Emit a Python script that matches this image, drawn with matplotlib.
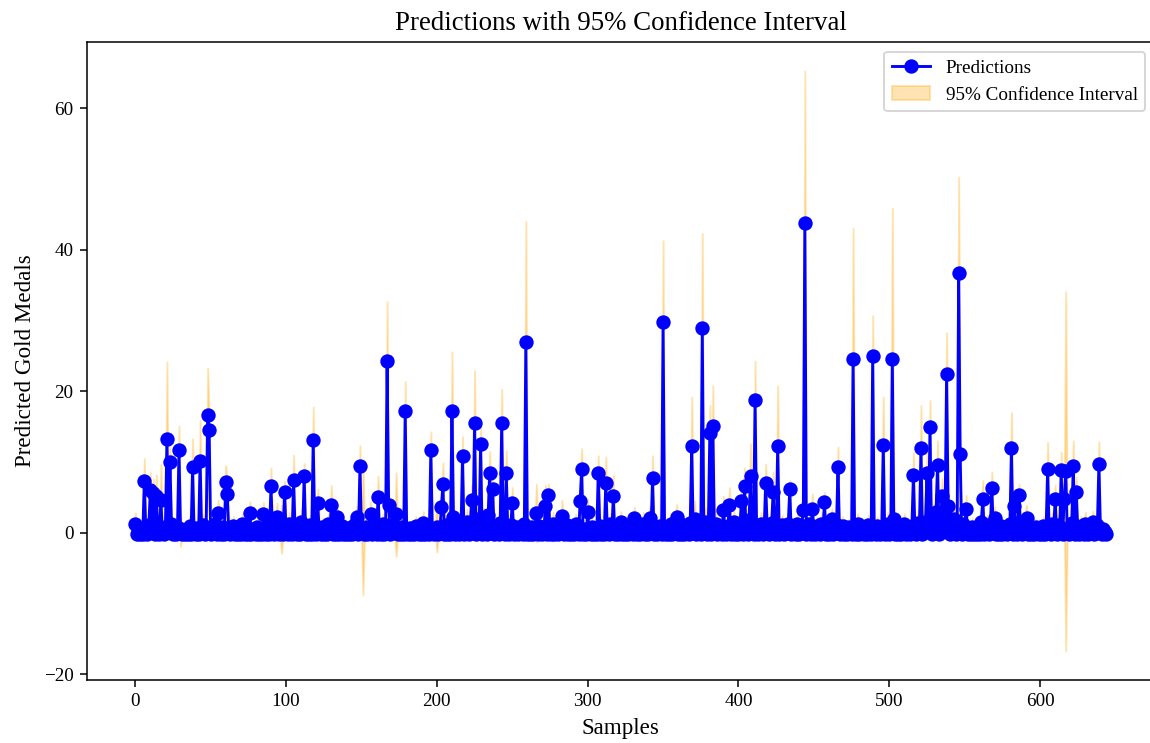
import numpy as np
import matplotlib
matplotlib.use('Agg')
import matplotlib.pyplot as plt

plt.rcParams['font.family'] = ['Liberation Serif', 'DejaVu Serif']

# Predicted gold medals per sample
predictions = [
    1.3, -0.2, 0.1, -0.2, 0.6, -0.1, 7.4, 0.3, -0.2, 1.1, 6.0, 0.2, 5.6, -0.1, 5.2, 0.4, -0.2, 4.6, 0.0, -0.2,
    0.9, 13.3, 0.2, 10.0, 1.2, -0.2, 0.5, -0.1, 0.8, 11.7, 0.5, -0.2, 0.1, -0.2, 0.3, -0.1, 1.0, -0.2, 9.3, 0.2,
    -0.2, 0.7, -0.1, 10.2, 0.3, 1.1, -0.2, 0.4, 16.7, 14.5, -0.2, 0.6, 0.0, 1.3, -0.2, 2.8, 0.2, -0.1, 0.9, -0.2,
    7.2, 5.5, 0.3, -0.2, 0.1, 1.0, -0.2, 0.2, -0.1, 0.5, -0.2, 1.2, 0.0, -0.2, 0.4, -0.1, 2.8, -0.2, 0.6, 0.1,
    -0.2, 0.9, -0.1, 0.3, -0.2, 2.6, 0.1, -0.2, 1.1, -0.1, 6.6, 0.2, -0.2, 0.7, 2.3, -0.2, 0.0, 0.5, -0.2, 5.8,
    0.4, -0.2, 1.3, 0.1, -0.2, 7.5, 0.2, -0.1, 0.8, -0.2, 1.6, 0.0, 8.0, -0.2, 0.5, -0.1, 1.1, -0.2, 13.2, 0.3,
    -0.2, 4.2, 0.1, -0.2, 0.9, -0.1, 0.4, -0.2, 1.2, 0.0, 3.9, -0.2, 0.6, -0.1, 2.3, -0.2, 0.2, 1.0, -0.2, 0.1,
    -0.2, 0.5, -0.1, 0.9, -0.2, 0.3, 1.3, 2.3, -0.2, 9.4, 0.2, 0.6, -0.2, 0.8, -0.1, 0.1, 2.7, -0.2, 0.4, 1.0,
    -0.2, 5.1, 0.3, -0.1, 1.2, -0.2, 0.6, 24.3, 4.0, -0.2, 0.2, 1.1, 0.3, 2.6, -0.2, 0.5, -0.1, 0.9, -0.2, 17.2,
    0.1, -0.2, 0.7, -0.1, 0.3, -0.2, 1.0, 0.0, -0.2, 0.4, -0.1, 1.4, -0.2, 0.2, 0.8, -0.2, 11.7, 0.1, -0.2, 0.6,
    0.8, -0.2, 0.3, 3.6, 6.9, -0.2, 1.1, -0.1, 0.4, -0.2, 17.3, 2.2, -0.2, 0.5, 1.0, -0.1, 0.2, 10.8, -0.2, 0.9,
    1.5, -0.2, 0.6, 4.6, 1.2, 15.6, -0.2, 2.0, 0.3, 12.6, -0.1, 1.8, 0.4, -0.2, 2.5, 8.5, 0.2, 6.2, -0.2, 1.0,
    0.3, -0.2, 1.4, 15.6, 0.1, -0.2, 8.5, 0.6, -0.1, 1.1, 4.2, -0.2, 0.2, 0.8, -0.2, 0.0, 0.5, -0.2, 1.2, 27.0,
    -0.2, 0.3, -0.1, 0.9, -0.2, 0.4, 2.8, -0.2, 1.0, 0.1, -0.2, 0.6, 3.8, -0.1, 5.4, 0.2, -0.2, 1.3, -0.1, 0.4,
    -0.2, 0.8, 0.0, 2.4, -0.2, 0.5, 1.1, -0.2, 0.2, -0.1, 0.7, -0.2, 1.2, 0.3, -0.2, 4.5, 9.1, -0.1, 0.6, -0.2,
    2.9, 0.1, -0.2, 0.9, -0.1, 0.4, -0.2, 8.5, 1.0, -0.2, 0.3, -0.1, 7.0, 0.5, -0.2, 1.2, 0.0, 5.2, -0.2, 0.6,
    -0.1, 0.2, 1.6, -0.2, 0.4, -0.1, 0.9, -0.2, 0.1, 1.1, -0.2, 2.1, 0.3, -0.2, 0.7, -0.1, 0.0, 1.3, -0.2, 0.5,
    -0.2, 2.1, 0.2, 7.7, -0.2, 0.8, -0.1, 0.4, 1.0, -0.2, 29.8, 0.1, -0.2, 0.6, -0.1, 1.2, -0.2, 0.3, 0.9, 2.3,
    -0.2, 0.4, -0.1, 1.1, -0.2, 0.2, 0.7, -0.2, 1.4, 12.3, 0.0, 2.0, -0.2, 0.5, 1.2, -0.2, 28.9, 0.3, 1.6, -0.1,
    0.8, 14.1, -0.2, 15.1, 0.4, 1.3, -0.2, 0.1, 0.9, -0.2, 3.2, 0.6, -0.1, 1.0, 4.0, -0.2, 0.3, 1.5, -0.2, 0.7,
    -0.1, 1.2, 4.5, -0.2, 6.6, 0.4, -0.2, 1.8, 8.0, 0.2, -0.2, 18.8, 0.9, -0.1, 0.5, 1.3, -0.2, 0.3, 7.0, 1.0,
    -0.2, 0.6, 1.4, 5.8, -0.1, 0.2, 12.3, -0.2, 0.8, 1.1, -0.2, 0.4, 0.0, 1.2, 6.2, -0.2, 0.3, 0.9, -0.1, 1.3,
    -0.2, 0.5, 1.0, 3.3, 43.8, -0.2, 0.7, 1.2, -0.1, 3.4, 0.2, -0.2, 1.0, 0.4, -0.2, 1.3, 0.1, 4.3, -0.2, 0.6,
    -0.1, 0.9, 1.9, -0.2, 0.3, 1.1, 9.3, -0.2, 0.5, 1.0, -0.1, 0.2, -0.2, 0.8, 0.0, -0.2, 24.6, 0.4, -0.1, 1.2,
    -0.2, 0.3, 0.9, -0.2, 0.6, -0.1, 1.1, 0.2, -0.2, 25.0, 0.5, -0.2, 1.0, 0.1, -0.2, 0.7, 12.4, -0.1, 0.4, 1.3,
    -0.2, 0.6, 24.6, 1.9, -0.2, 0.3, -0.1, 0.9, -0.2, 0.2, 1.2, -0.2, 0.5, 0.0, -0.2, 1.0, 8.2, 0.4, -0.2, 1.4,
    0.8, 12.0, -0.2, 0.3, 1.5, 8.5, 0.6, 15.0, -0.2, 2.2, 0.4, 3.0, 9.6, -0.2, 1.8, 5.2, 0.3, 2.6, 22.4, 3.8,
    -0.2, 1.0, 0.4, 2.0, -0.1, 0.7, 36.8, 11.1, -0.2, 1.2, 0.3, 3.4, -0.2, 0.5, -0.1, 0.9, -0.2, 0.2, -0.2, 0.6,
    -0.1, 1.5, 4.8, -0.2, 0.3, 1.1, -0.2, 0.8, 6.4, 0.2, 2.1, -0.2, 0.5, -0.1, 1.0, -0.2, 0.3, 0.0, -0.2, 0.7,
    1.2, 12.0, -0.2, 3.8, 0.4, -0.1, 5.4, 0.9, -0.2, 0.2, 1.1, 2.1, -0.2, 0.5, -0.1, 0.3, -0.2, 0.8, 0.0, -0.2,
    0.4, -0.1, 1.0, -0.2, 0.6, 9.1, 0.2, -0.2, 1.3, 0.5, 4.8, -0.2, 1.1, 0.3, 8.9, -0.2, 4.8, 8.7, 0.4, -0.2,
    0.9, 1.4, 9.5, -0.2, 5.8, 0.3, -0.1, 1.0, 0.2, -0.2, 1.3, 0.5, -0.2, 0.0, 0.8, 1.6, -0.2, 0.4, 1.1, 9.8,
    0.3, -0.2, 0.6, 0.1, -0.2,
]

# Half width of the 95% confidence interval per sample
ci_half = [
    1.5, 0.4, 0.6, 0.3, 1.0, 0.4, 3.1, 0.7, 0.3, 1.4, 2.5, 0.5, 2.0, 0.4, 3.0, 0.8, 0.3, 5.1, 0.5, 0.3,
    1.2, 10.9, 0.6, 2.5, 1.5, 0.3, 0.9, 0.4, 1.1, 3.4, 2.4, 0.3, 0.5, 0.3, 0.7, 0.4, 1.3, 0.3, 4.0, 0.6,
    0.3, 1.0, 0.4, 5.7, 0.7, 1.5, 0.3, 0.8, 6.6, 2.0, 0.3, 0.9, 0.5, 1.6, 0.3, 1.8, 0.6, 0.4, 1.2, 0.3,
    2.3, 1.5, 0.7, 0.3, 0.5, 1.3, 0.3, 0.6, 0.4, 0.9, 0.3, 1.5, 0.5, 0.3, 0.8, 0.4, 1.6, 0.3, 0.9, 0.5,
    0.3, 1.2, 0.4, 0.7, 0.3, 1.7, 0.5, 0.3, 1.4, 0.4, 2.6, 0.6, 0.3, 1.0, 1.9, 0.3, 0.5, 3.4, 0.3, 1.5,
    0.8, 0.3, 1.6, 0.5, 0.3, 3.5, 0.6, 0.4, 1.1, 0.3, 1.8, 0.5, 1.8, 0.3, 0.9, 0.4, 1.4, 0.3, 4.6, 0.7,
    0.3, 2.0, 0.5, 0.3, 1.2, 0.4, 0.8, 0.3, 1.5, 0.5, 2.8, 0.3, 0.9, 0.4, 1.6, 0.3, 0.6, 1.3, 0.3, 0.5,
    0.3, 0.9, 0.4, 1.2, 0.3, 0.7, 1.6, 1.5, 0.3, 2.9, 0.6, 9.4, 0.3, 1.1, 0.4, 0.5, 1.7, 0.3, 0.8, 1.3,
    0.3, 2.9, 0.7, 0.4, 1.5, 0.3, 0.9, 8.4, 1.8, 0.3, 0.6, 1.4, 0.7, 5.9, 0.3, 0.9, 0.4, 1.2, 0.3, 4.2,
    0.5, 0.3, 1.0, 0.4, 0.7, 0.3, 1.3, 0.5, 0.3, 0.8, 0.4, 1.6, 0.3, 0.6, 1.1, 0.3, 2.6, 0.5, 0.3, 0.9,
    3.5, 0.3, 0.7, 1.7, 3.0, 0.3, 1.4, 0.4, 0.8, 0.3, 8.3, 1.5, 0.3, 0.9, 1.3, 0.4, 0.6, 2.8, 0.3, 1.2,
    1.8, 0.3, 0.9, 2.2, 1.5, 7.3, 0.3, 1.9, 0.7, 2.5, 0.4, 1.7, 0.8, 0.3, 2.0, 3.0, 0.6, 2.4, 0.3, 1.3,
    0.7, 0.3, 1.6, 4.7, 0.5, 0.3, 3.1, 0.9, 0.4, 1.4, 2.2, 0.3, 0.6, 1.1, 0.3, 0.5, 0.9, 0.3, 1.5, 17.0,
    0.3, 0.7, 0.4, 1.2, 0.3, 0.8, 4.1, 0.3, 1.3, 0.5, 0.3, 0.9, 2.9, 0.4, 1.5, 0.6, 0.3, 1.6, 0.4, 0.8,
    0.3, 1.1, 0.5, 2.2, 0.3, 0.9, 1.4, 0.3, 0.6, 0.4, 1.0, 0.3, 1.5, 0.7, 0.3, 2.0, 2.8, 0.4, 0.9, 0.3,
    1.9, 0.5, 0.3, 1.2, 0.4, 0.8, 0.3, 2.4, 1.3, 0.3, 0.7, 0.4, 3.7, 0.9, 0.3, 1.5, 0.5, 2.9, 0.3, 0.9,
    0.4, 0.6, 1.4, 0.3, 0.8, 0.4, 1.2, 0.3, 0.5, 1.4, 0.3, 1.5, 0.7, 0.3, 1.0, 0.4, 0.5, 1.6, 0.3, 0.9,
    0.3, 1.6, 0.6, 3.2, 0.3, 1.1, 0.4, 0.8, 1.3, 0.3, 11.5, 0.5, 0.3, 0.9, 0.4, 1.5, 0.3, 0.7, 1.2, 1.7,
    0.3, 0.8, 0.4, 1.4, 0.3, 0.6, 1.0, 0.3, 1.7, 6.9, 0.5, 2.5, 0.3, 0.9, 1.5, 0.3, 13.4, 0.7, 1.9, 0.4,
    1.1, 3.9, 0.3, 5.7, 0.8, 1.6, 0.3, 0.5, 1.2, 0.3, 2.0, 0.9, 0.4, 1.3, 2.4, 0.3, 0.7, 1.8, 0.3, 1.0,
    0.4, 1.5, 2.3, 0.3, 2.6, 0.8, 0.3, 1.9, 4.6, 0.6, 0.3, 5.5, 1.2, 0.4, 0.9, 1.6, 0.3, 0.7, 2.7, 1.3,
    0.3, 0.9, 1.7, 2.8, 0.4, 0.6, 8.5, 0.3, 1.1, 1.4, 0.3, 0.8, 0.5, 1.5, 1.2, 0.3, 1.1, 1.2, 0.4, 1.6,
    0.3, 0.9, 1.3, 2.0, 21.5, 0.3, 1.0, 1.5, 0.4, 2.1, 0.6, 0.3, 1.3, 0.8, 0.3, 1.6, 0.5, 1.4, 0.3, 0.9,
    0.4, 1.2, 1.5, 0.3, 0.7, 1.4, 2.8, 0.3, 0.9, 1.3, 0.4, 0.6, 0.3, 1.1, 0.5, 0.3, 18.5, 0.8, 0.4, 1.5,
    0.3, 0.7, 1.2, 0.3, 0.9, 0.4, 1.4, 0.6, 0.3, 5.7, 0.9, 0.3, 1.3, 0.5, 0.3, 1.0, 6.8, 0.4, 0.8, 1.6,
    0.3, 0.9, 21.3, 1.5, 0.3, 0.7, 0.4, 1.2, 0.3, 0.6, 1.5, 0.3, 0.9, 0.5, 0.3, 1.3, 3.2, 0.8, 0.3, 1.7,
    1.1, 6.0, 0.3, 0.7, 1.8, 2.7, 0.9, 3.7, 0.3, 1.9, 0.8, 2.2, 3.4, 0.3, 1.6, 2.5, 0.7, 2.0, 5.9, 2.1,
    0.3, 1.3, 0.8, 1.7, 0.4, 1.0, 13.5, 3.0, 0.3, 1.5, 0.7, 1.9, 0.3, 0.9, 0.4, 1.2, 0.3, 0.6, 0.3, 0.9,
    0.4, 1.6, 2.6, 0.3, 0.7, 1.4, 0.3, 1.1, 2.2, 0.6, 1.6, 0.3, 0.9, 0.4, 1.3, 0.3, 0.7, 0.5, 0.3, 1.0,
    1.5, 5.0, 0.3, 2.0, 0.8, 0.4, 1.5, 1.2, 0.3, 0.6, 1.4, 1.8, 0.3, 0.9, 0.4, 0.7, 0.3, 1.1, 0.5, 0.3,
    0.8, 0.4, 1.3, 0.3, 0.9, 3.7, 0.6, 0.3, 1.6, 0.9, 2.0, 0.3, 1.4, 0.7, 2.5, 0.3, 2.3, 25.4, 0.8, 0.3,
    1.2, 1.7, 3.5, 0.3, 2.1, 0.7, 0.4, 1.3, 0.6, 0.3, 1.6, 0.9, 0.3, 0.5, 1.1, 1.5, 0.3, 0.8, 1.4, 3.1,
    0.7, 0.3, 0.9, 0.5, 0.3,
]

preds = np.array(predictions)
half = np.array(ci_half)
lower = preds - half
upper = preds + half
samples = np.arange(len(preds))

W, H, DPI = 1150, 743, 138
fig = plt.figure(figsize=(W / DPI, H / DPI), dpi=DPI)
ax = fig.add_axes([86.7 / W, 63 / H, (1155 - 86.7) / W, 638 / H])

ax.plot(samples, preds, color='blue', marker='o', markersize=6.5, label='Predictions')
ax.fill_between(samples, lower, upper, color='orange', alpha=0.3,
                label='95% Confidence Interval')

ax.set_title('Predictions with 95% Confidence Interval', fontsize=14)
ax.set_xlabel('Samples', fontsize=12)
ax.set_ylabel('Predicted Gold Medals', fontsize=12)
ax.set_yticks([-20, 0, 20, 40, 60])
ax.legend(loc='upper right')

fig.savefig('out.png', dpi=DPI)
